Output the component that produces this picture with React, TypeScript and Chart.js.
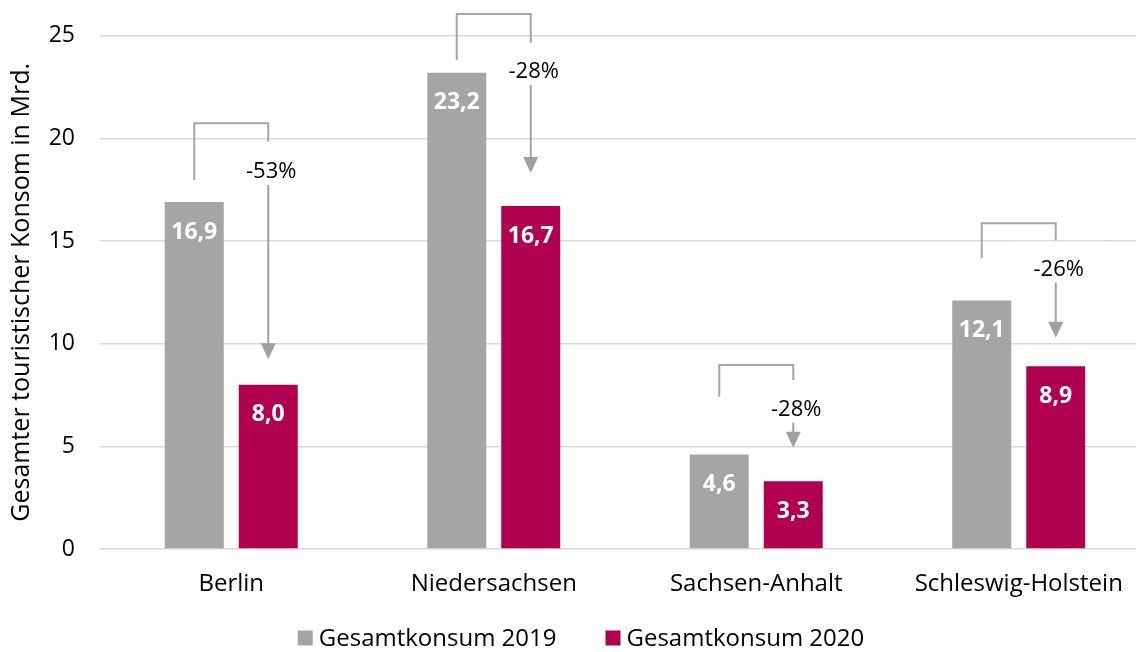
import React, { useEffect, useRef } from 'react';
import { Chart, registerables } from 'chart.js';

Chart.register(...registerables);

// ---- data ----
const categories = ['Berlin', 'Niedersachsen', 'Sachsen-Anhalt', 'Schleswig-Holstein'];
const seriesNames = ['Gesamtkonsum 2019', 'Gesamtkonsum 2020'];
const values2019 = [16.9, 23.2, 4.6, 12.1];
const values2020 = [8.0, 16.7, 3.3, 8.9];
const changeLabels = ['-53%', '-28%', '-28%', '-26%'];
const yTickStep = 5;
const yMax = 25;

// annotation geometry (in value units of the y axis)
const bracketTop = [20.74, 26.06, 8.96, 15.86];
const bracketLeftEnd = [17.97, 23.82, 7.42, 14.16];
const bracketRightEnd = [19.84, 24.66, 8.23, 15.02];
const changeLabelY = [18.38, 23.25, 6.8, 13.62];
const arrowStart = [17.73, 22.6, 6.15, 12.97];
const arrowTip = [9.24, 18.31, 4.93, 10.29];

const GRAY = '#a5a5a5';
const MAGENTA = '#b0004f';
const FONT = '"Open Sans", Lato, sans-serif';

const fmt = (v: number) => v.toFixed(1).replace('.', ',');

const overlayPlugin = {
  id: 'overlay',
  beforeDatasetsDraw(chart: any) {
    // white boxes behind the change labels (hide gridlines)
    const ctx = chart.ctx as CanvasRenderingContext2D;
    const y = chart.scales.y;
    const m1 = chart.getDatasetMeta(1);
    ctx.save();
    ctx.fillStyle = '#ffffff';
    categories.forEach((_, i) => {
      const xr = m1.data[i].x;
      const yRB = y.getPixelForValue(bracketRightEnd[i]);
      const yAS = y.getPixelForValue(arrowStart[i]);
      ctx.fillRect(xr - 46, yRB + 1, 96, yAS - yRB - 1);
    });
    ctx.restore();
  },
  afterDatasetsDraw(chart: any) {
    const ctx = chart.ctx as CanvasRenderingContext2D;
    const y = chart.scales.y;
    const m0 = chart.getDatasetMeta(0);
    const m1 = chart.getDatasetMeta(1);
    ctx.save();
    // value labels
    ctx.font = `bold 23px ${FONT}`;
    ctx.fillStyle = '#ffffff';
    ctx.textAlign = 'center';
    ctx.textBaseline = 'middle';
    [m0, m1].forEach((m: any, d: number) => {
      const vals = d === 0 ? values2019 : values2020;
      m.data.forEach((bar: any, i: number) => {
        ctx.fillText(fmt(vals[i]), bar.x, bar.y + 30);
      });
    });
    // change annotations
    categories.forEach((_, i) => {
      const xl = m0.data[i].x;
      const xr = m1.data[i].x;
      const yTop = y.getPixelForValue(bracketTop[i]);
      const yLB = y.getPixelForValue(bracketLeftEnd[i]);
      const yRB = y.getPixelForValue(bracketRightEnd[i]);
      const yLab = y.getPixelForValue(changeLabelY[i]);
      const yAS = y.getPixelForValue(arrowStart[i]);
      const yTip = y.getPixelForValue(arrowTip[i]);
      // bracket
      ctx.strokeStyle = '#a6a6a6';
      ctx.lineWidth = 2;
      ctx.beginPath();
      ctx.moveTo(xl, yLB);
      ctx.lineTo(xl, yTop);
      ctx.lineTo(xr, yTop);
      ctx.lineTo(xr, yRB);
      ctx.stroke();
      // label
      ctx.fillStyle = '#000000';
      ctx.font = `22px ${FONT}`;
      ctx.fillText(changeLabels[i], xr + 3, yLab);
      // arrow
      const headH = 16;
      const headW = 15;
      ctx.strokeStyle = '#a0a0a0';
      ctx.beginPath();
      ctx.moveTo(xr, yAS);
      ctx.lineTo(xr, yTip - headH + 1);
      ctx.stroke();
      ctx.fillStyle = '#a0a0a0';
      ctx.beginPath();
      ctx.moveTo(xr - headW / 2, yTip - headH);
      ctx.lineTo(xr + headW / 2, yTip - headH);
      ctx.lineTo(xr, yTip);
      ctx.closePath();
      ctx.fill();
    });
    ctx.restore();
  },
  afterDraw(chart: any) {
    // legend
    const ctx = chart.ctx as CanvasRenderingContext2D;
    ctx.save();
    ctx.font = `24px ${FONT}`;
    ctx.textBaseline = 'middle';
    ctx.textAlign = 'left';
    const box = 15;
    const gap = 6;
    const itemGap = 49;
    const colors = [GRAY, MAGENTA];
    const widths = seriesNames.map((s) => box + gap + ctx.measureText(s).width);
    const total = widths.reduce((a, b) => a + b, 0) + itemGap * (widths.length - 1);
    const cy = 638;
    let x = 581 - total / 2;
    seriesNames.forEach((s, i) => {
      ctx.fillStyle = colors[i];
      ctx.fillRect(x, cy - box / 2, box, box);
      ctx.fillStyle = '#000000';
      ctx.fillText(s, x + box + gap, cy + 1);
      x += widths[i] + itemGap;
    });
    ctx.restore();
  },
};

export default function App() {
  const ref = useRef<HTMLCanvasElement | null>(null);
  useEffect(() => {
    if (!ref.current) return;
    const chart = new Chart(ref.current, {
      type: 'bar',
      data: {
        datasets: [
          {
            label: seriesNames[0],
            data: values2019.map((v, i) => ({ x: i, y: v })),
            backgroundColor: GRAY,
            barPercentage: 0.797,
            categoryPercentage: 0.5638,
          },
          {
            label: seriesNames[1],
            data: values2020.map((v, i) => ({ x: i, y: v })),
            backgroundColor: MAGENTA,
            barPercentage: 0.797,
            categoryPercentage: 0.5638,
          },
        ],
      },
      options: {
        animation: false,
        responsive: false,
        maintainAspectRatio: false,
        layout: { padding: { top: 35.7, left: 0, right: 0, bottom: 0 } },
        plugins: {
          legend: { display: false },
          tooltip: { enabled: false },
        },
        scales: {
          x: {
            type: 'linear',
            offset: false,
            bounds: 'data',
            min: -0.5,
            max: -0.5 + 1036 / 262.5,
            grid: { display: false, drawTicks: false, offset: false },
            border: { display: false },
            afterBuildTicks: (scale: any) => {
              scale.ticks = categories.map((_, i) => ({ value: i }));
            },
            afterFit: (scale: any) => {
              scale.height = 103;
              scale.paddingLeft = 0;
              scale.paddingRight = 0;
            },
            ticks: {
              autoSkip: false,
              maxRotation: 0,
              padding: 21,
              color: '#000000',
              font: { family: FONT, size: 24 },
              callback: (v: any) => categories[v as number] ?? '',
            },
          },
          y: {
            min: 0,
            max: yMax,
            afterFit: (scale: any) => {
              scale.width = 100;
              scale.paddingTop = 0;
              scale.paddingBottom = 0;
            },
            grid: { color: '#d9d9d9', lineWidth: 1.5, drawTicks: false },
            border: { display: false },
            ticks: {
              stepSize: yTickStep,
              padding: 25,
              color: '#000000',
              font: { family: FONT, size: 23 },
            },
            title: {
              display: true,
              text: 'Gesamter touristischer Konsom in Mrd.',
              color: '#000000',
              font: { family: FONT, size: 25 },
              padding: { top: 7, bottom: 0 },
            },
          },
        },
      } as any,
      plugins: [overlayPlugin],
    });
    return () => chart.destroy();
  }, []);
  return (
    <div style={{ position: 'absolute', left: 0, top: 0, width: 1136, height: 652, background: '#ffffff' }}>
      <canvas ref={ref} width={1136} height={652} style={{ display: 'block' }} />
    </div>
  );
}
